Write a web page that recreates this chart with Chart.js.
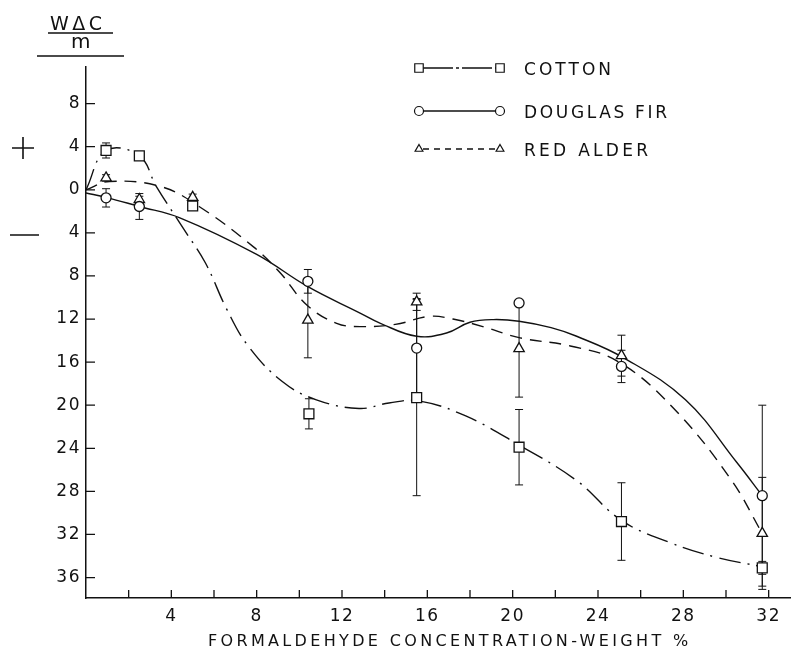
<!DOCTYPE html>
<html>
<head>
<meta charset="utf-8">
<script src="https://cdn.jsdelivr.net/npm/chart.js@4.4.1/dist/chart.umd.min.js"></script>
<style>
  html, body { margin: 0; padding: 0; background: #fff; }
</style>
</head>
<body>
<canvas id="myChart" width="792" height="647"></canvas>
<script>
// measured points, x = formaldehyde %, y = W dC / m (below zero shown as plain numbers)
var cottonX = [0.94, 2.5, 5.0, 10.45, 15.5, 20.3, 25.1, 31.7]
var cottonY = [3.65, 3.15, -1.5, -20.8, -19.3, -23.9, -30.8, -35.1]
var cottonErr = [0.7, 0, 0, 1.4, 9.1, 3.5, 3.6, 0.6]

var firX = [0.94, 2.5, 10.4, 15.5, 20.3, 25.1, 31.7]
var firY = [-0.75, -1.55, -8.5, -14.7, -10.5, -16.4, -28.4]
var firErr = [0.85, 1.2, 1.1, 4.6, 0, 1.5, 8.4]

var alderX = [0.94, 2.5, 5.0, 10.4, 15.5, 20.3, 25.1, 31.7]
var alderY = [1.1, -0.9, -0.7, -12.1, -10.4, -14.75, -15.4, -31.9]
var alderErr = [0.3, 0.3, 0.3, 3.5, 0.8, 4.5, 1.9, 5.2]

// fitted curves
var cottonCurveX = [0, 0.94, 2.5, 3.3, 4.6, 5.6, 6.6, 7.6, 9.2, 10.8, 12.8, 14.2, 15.6, 17.8, 20.3, 23.0, 25.1, 27.3, 29.5, 31.7]
var cottonCurveY = [0, 3.65, 3.15, 0.3, -3.7, -6.8, -11.1, -14.5, -17.8, -19.5, -20.3, -19.8, -19.6, -21.0, -23.7, -27.0, -30.7, -32.7, -34.1, -35.0]

var firCurveX = [0, 0.94, 2.5, 4.4, 8.0, 10.4, 12.8, 13.8, 15.5, 16.9, 18.0, 19.1, 20.3, 21.8, 23.0, 25.2, 28.1, 30.5, 31.7]
var firCurveY = [-0.3, -0.7, -1.55, -2.6, -6.0, -9.0, -11.4, -12.4, -13.6, -13.3, -12.3, -12.05, -12.2, -12.8, -13.6, -15.6, -19.5, -25.3, -28.4]

var alderCurveX = [0, 1.1, 3.5, 5.3, 7.85, 9.1, 10.35, 11.75, 12.85, 14.5, 16.1, 17.2, 18.6, 20.35, 22.7, 24.9, 27.45, 30.2, 31.7]
var alderCurveY = [0, 0.77, 0.3, -1.55, -5.3, -7.7, -10.7, -12.4, -12.7, -12.5, -11.75, -12.0, -12.7, -13.75, -14.5, -15.9, -20.1, -26.8, -31.9]

var xTicks = [2, 4, 6, 8, 10, 12, 14, 16, 18, 20, 22, 24, 26, 28, 30, 32]
var yTicks = [-36, -32, -28, -24, -20, -16, -12, -8, -4, 0, 4, 8]

var ink = '#111'
var font = 'DejaVu Sans'

function pts(xs, ys) {
  return xs.map(function (x, i) { return { x: x, y: ys[i] } })
}

// text stretched to the width it has on the original lettering
function fitText(ctx, str, x, y, width, size) {
  ctx.font = size + 'px "' + font + '"'
  ctx.letterSpacing = '0px'
  var w = ctx.measureText(str).width
  var sp = (width - w) / Math.max(1, str.length - 1)
  ctx.letterSpacing = sp.toFixed(2) + 'px'
  ctx.fillText(str, x, y)
  ctx.letterSpacing = '0px'
}

var errorBars = {
  id: 'errorBars',
  beforeDraw: function (chart) {
    // tick labels on the original are spaced out a little
    chart.ctx.letterSpacing = '1.5px'
  },
  beforeDatasetsDraw: function (chart) {
    var ctx = chart.ctx
    var xs = chart.scales.x, ys = chart.scales.y
    var sets = [[cottonX, cottonY, cottonErr], [firX, firY, firErr], [alderX, alderY, alderErr]]
    ctx.save()
    ctx.letterSpacing = '0px'
    ctx.strokeStyle = ink
    ctx.lineWidth = 1
    sets.forEach(function (s) {
      s[0].forEach(function (xv, i) {
        var e = s[2][i]
        if (!e) return
        var px = xs.getPixelForValue(xv)
        var top = ys.getPixelForValue(s[1][i] + e)
        var bot = ys.getPixelForValue(s[1][i] - e)
        ctx.beginPath()
        ctx.moveTo(px, top); ctx.lineTo(px, bot)
        ctx.moveTo(px - 4, top); ctx.lineTo(px + 4, top)
        ctx.moveTo(px - 4, bot); ctx.lineTo(px + 4, bot)
        ctx.stroke()
      })
    })
    ctx.restore()
  }
}

var decorations = {
  id: 'decorations',
  afterDraw: function (chart) {
    var ctx = chart.ctx
    var xs = chart.scales.x, ys = chart.scales.y
    var area = chart.chartArea
    ctx.save()
    ctx.letterSpacing = '0px'
    ctx.strokeStyle = ink
    ctx.fillStyle = ink
    ctx.lineWidth = 1.3

    // tick marks point into the plot
    ctx.beginPath()
    yTicks.forEach(function (v) {
      var py = ys.getPixelForValue(v)
      ctx.moveTo(area.left, py); ctx.lineTo(area.left + 9, py)
    })
    xTicks.forEach(function (v) {
      var px = xs.getPixelForValue(v)
      ctx.moveTo(px, area.bottom); ctx.lineTo(px, area.bottom - 8)
    })
    ctx.stroke()

    // y axis title as a fraction
    ctx.textBaseline = 'alphabetic'
    fitText(ctx, 'W\u0394C', 50, 30, 52, 19)
    fitText(ctx, 'm', 71, 48, 16, 20)
    ctx.lineWidth = 1.6
    ctx.beginPath()
    ctx.moveTo(48, 33); ctx.lineTo(113, 33)
    ctx.moveTo(37, 56); ctx.lineTo(124, 56)
    // plus / minus signs
    ctx.moveTo(12, 148); ctx.lineTo(34, 148)
    ctx.moveTo(23, 137); ctx.lineTo(23, 159)
    ctx.moveTo(10, 235); ctx.lineTo(39, 235)
    ctx.stroke()

    // x axis title
    fitText(ctx, 'FORMALDEHYDE CONCENTRATION-WEIGHT %', 208, 646, 480, 16)

    // legend
    var rows = [
      { label: 'COTTON', y: 68, w: 87, dash: [30, 3, 3, 3], style: 'rect' },
      { label: 'DOUGLAS FIR', y: 111, w: 143, dash: [], style: 'circle' },
      { label: 'RED ALDER', y: 149, w: 124, dash: [6, 5], style: 'triangle' }
    ]
    rows.forEach(function (r) {
      ctx.lineWidth = 1.4
      ctx.setLineDash(r.dash)
      ctx.beginPath()
      ctx.moveTo(423, r.y); ctx.lineTo(496, r.y)
      ctx.stroke()
      ctx.setLineDash([])
      ctx.fillStyle = '#fff'
      ctx.lineWidth = 1.2
      var opts = { pointStyle: r.style, radius: r.style === 'rect' ? 6 : 4.5, borderWidth: 1.2 }
      Chart.helpers.drawPoint(ctx, opts, 419, r.y)
      Chart.helpers.drawPoint(ctx, opts, 500, r.y)
      ctx.fillStyle = ink
      fitText(ctx, r.label, 524, r.y + 6.5, r.w, 17)
    })
    ctx.restore()
  }
}

function markerSet(label, xs, ys, style, radius) {
  return {
    type: 'scatter',
    label: label,
    data: pts(xs, ys),
    showLine: false,
    pointStyle: style,
    pointRadius: radius,
    pointBorderWidth: 1.3,
    pointBorderColor: ink,
    pointBackgroundColor: '#fff'
  }
}

function curveSet(label, xs, ys, dash) {
  return {
    type: 'line',
    label: label,
    data: pts(xs, ys),
    borderColor: ink,
    borderWidth: 1.4,
    borderDash: dash,
    pointRadius: 0,
    fill: false,
    tension: 0.4
  }
}

var ctx = document.getElementById('myChart').getContext('2d')
var myChart = new Chart(ctx, {
  type: 'scatter',
  data: {
    datasets: [
      markerSet('COTTON', cottonX, cottonY, 'rect', 7),
      markerSet('DOUGLAS FIR', firX, firY, 'circle', 5),
      markerSet('RED ALDER', alderX, alderY, 'triangle', 6),
      curveSet('COTTON curve', cottonCurveX, cottonCurveY, [22, 7, 2, 7]),
      curveSet('DOUGLAS FIR curve', firCurveX, firCurveY, []),
      curveSet('RED ALDER curve', alderCurveX, alderCurveY, [12, 8])
    ]
  },
  options: {
    responsive: false,
    animation: false,
    layout: { autoPadding: false, padding: { top: 67, right: 2, left: 0, bottom: 0 } },
    plugins: {
      legend: { display: false },
      tooltip: { enabled: false }
    },
    scales: {
      x: {
        type: 'linear',
        min: 0,
        max: 33,
        afterBuildTicks: function (scale) {
          scale.ticks = xTicks.map(function (v) { return { value: v } })
        },
        afterFit: function (scale) {
          scale.height = 49
          scale.paddingLeft = 0
          scale.paddingRight = 0
        },
        ticks: {
          autoSkip: false,
          maxRotation: 0,
          padding: 8,
          color: ink,
          font: { family: font, size: 17 },
          callback: function (v) { return v % 4 === 0 ? String(v) : '' }
        },
        grid: { drawOnChartArea: false, drawTicks: false },
        border: { display: true, color: ink, width: 1.5 }
      },
      y: {
        min: -37.9,
        max: 11.4,
        afterBuildTicks: function (scale) {
          scale.ticks = yTicks.map(function (v) { return { value: v } })
        },
        afterFit: function (scale) {
          scale.width = 86
          scale.paddingTop = 0
          scale.paddingBottom = 0
        },
        ticks: {
          padding: 5,
          color: ink,
          font: { family: font, size: 17 },
          callback: function (v) { return String(Math.abs(v)) }
        },
        grid: { drawOnChartArea: false, drawTicks: false },
        border: { display: true, color: ink, width: 1.5 }
      }
    }
  },
  plugins: [errorBars, decorations]
})
</script>
</body>
</html>
